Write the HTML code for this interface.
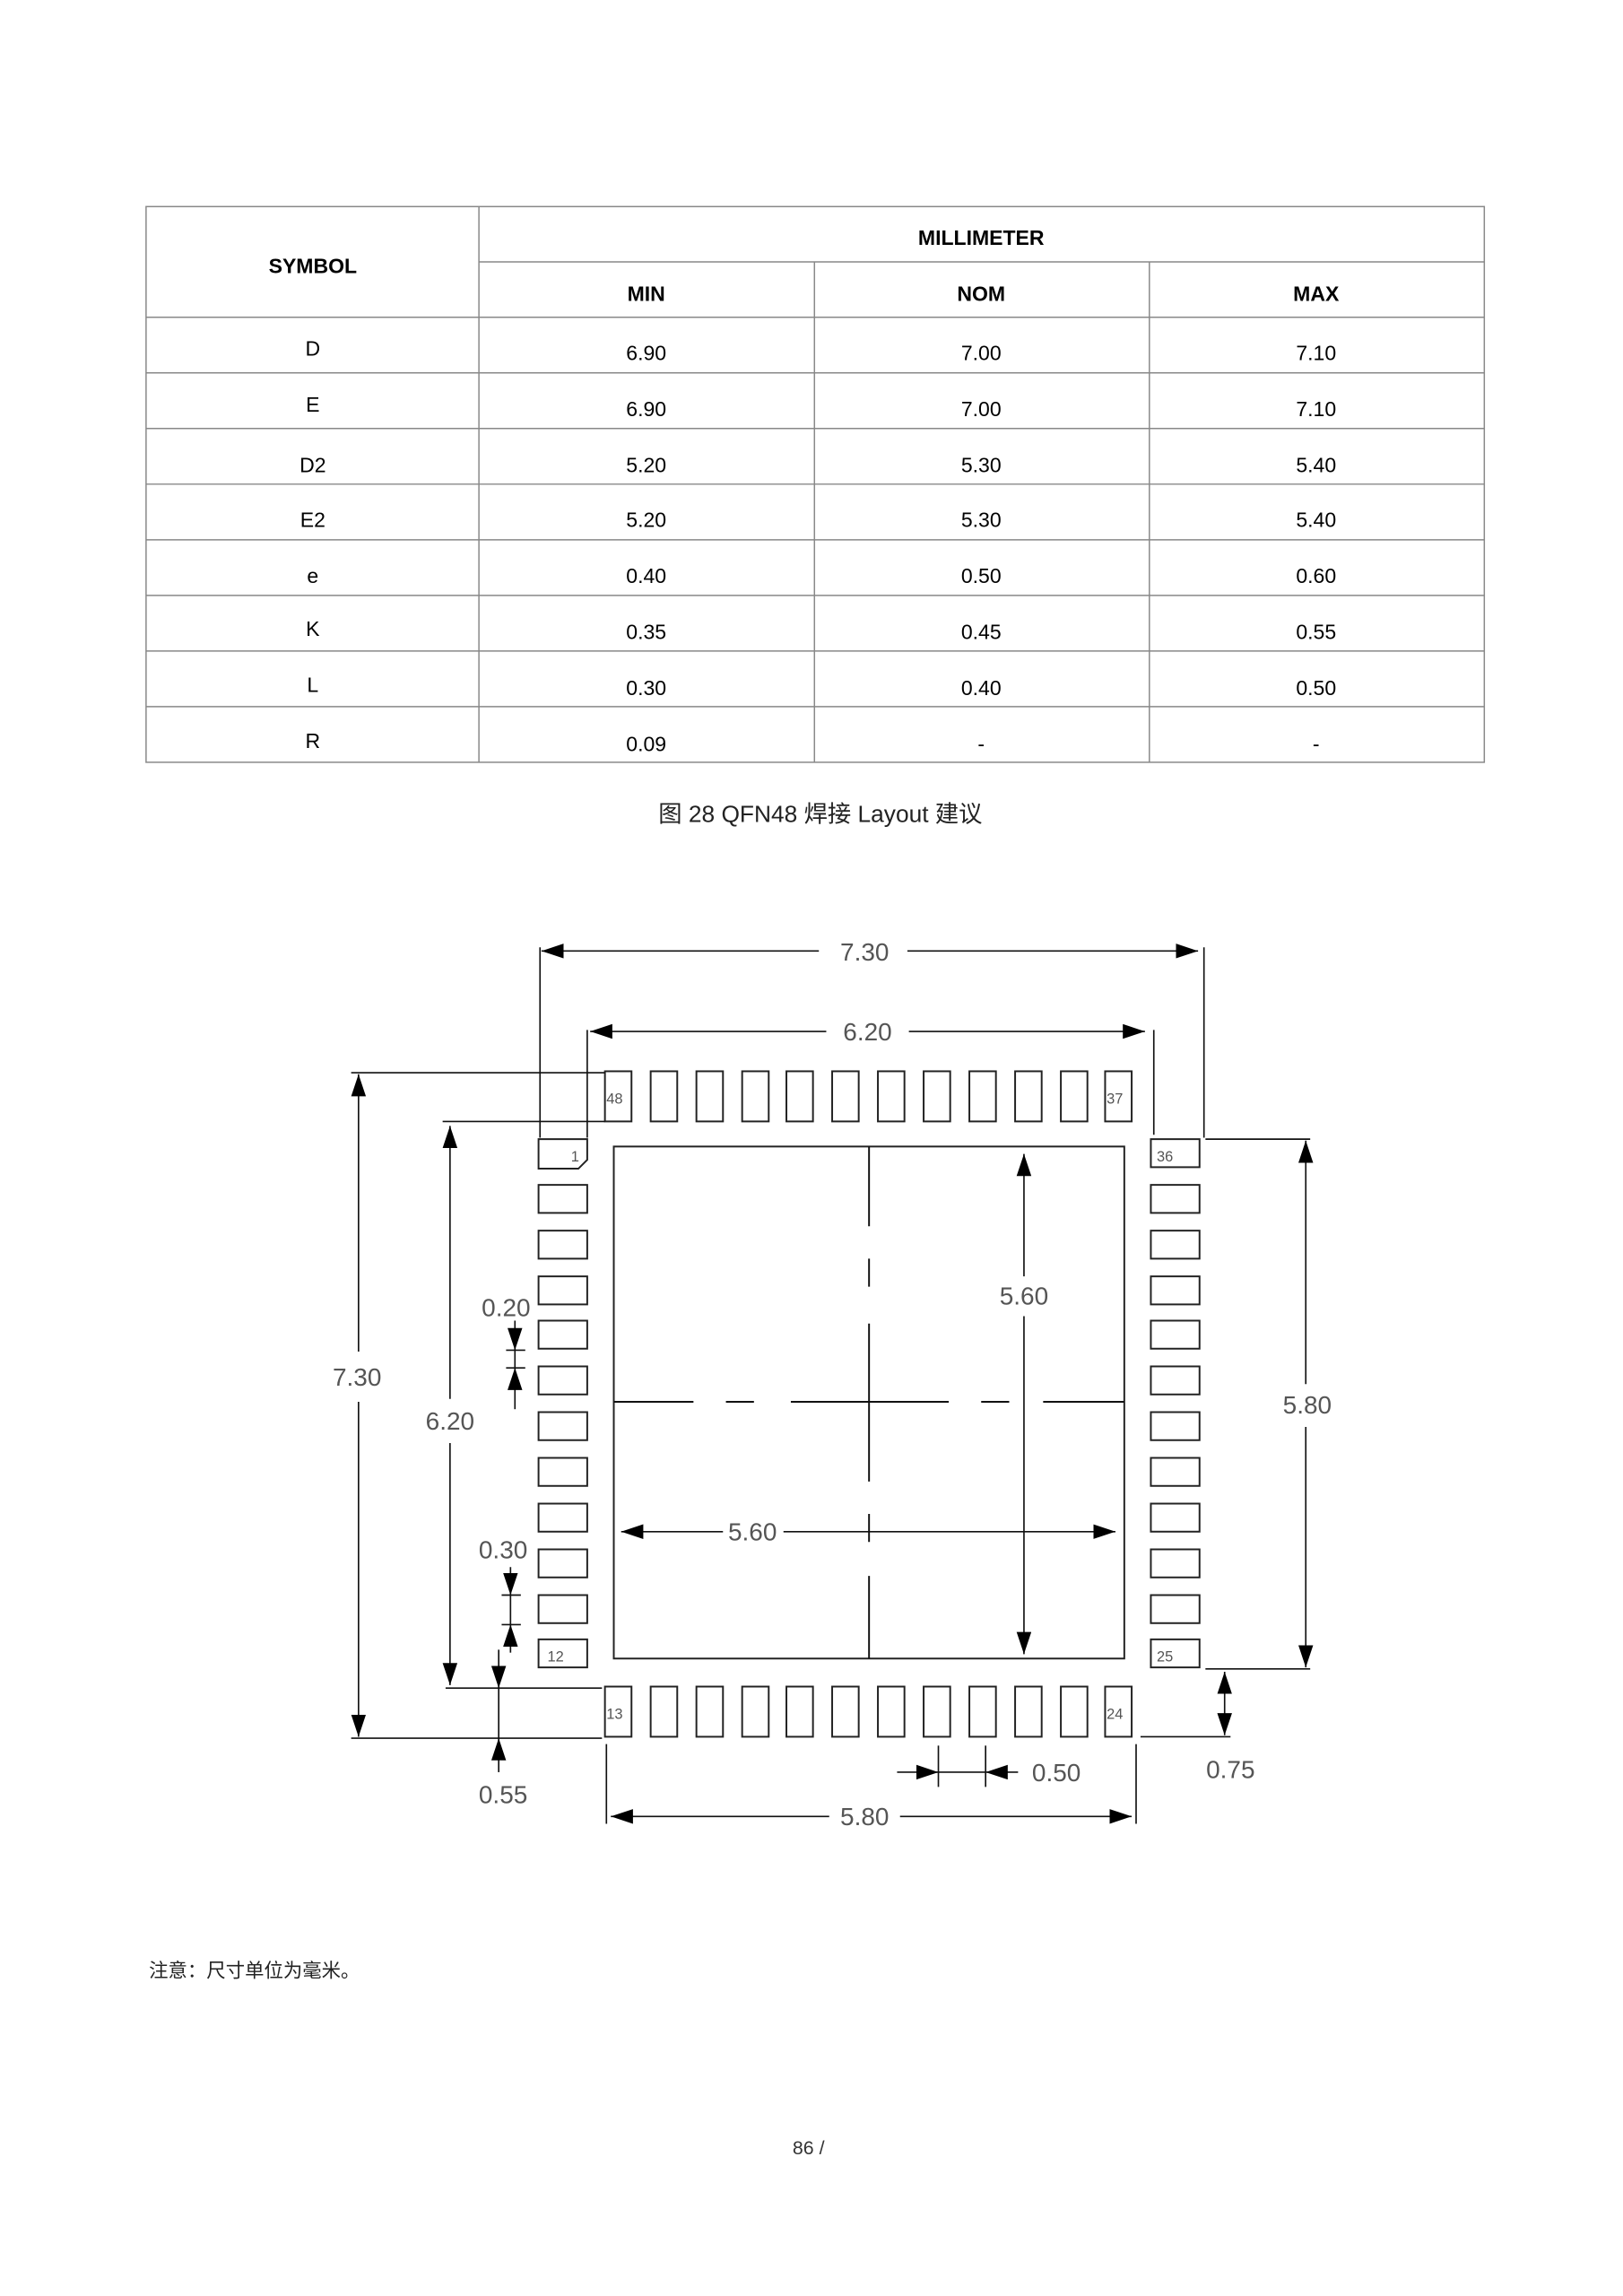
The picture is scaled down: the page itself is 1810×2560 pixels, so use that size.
<!DOCTYPE html>
<html><head><meta charset="utf-8"><style>
html,body{margin:0;padding:0;background:#fff;}
svg{display:block;}
text{font-family:"Liberation Sans","Noto Sans CJK SC",sans-serif;}
</style></head><body>
<svg width="1810" height="2560" viewBox="0 0 1100 1556" preserveAspectRatio="none" xmlns="http://www.w3.org/2000/svg">
<defs>
<marker id="a" markerUnits="userSpaceOnUse" markerWidth="16" markerHeight="11" refX="15" refY="5" orient="auto-start-reverse"><path d="M0,0 L15,5 L0,10 z" fill="#000"/></marker>
</defs>
<!-- table -->
<g stroke="#888" stroke-width="0.9" fill="none">
<rect x="99" y="140" width="907" height="376.6"/>
<line x1="324.6" y1="177.5" x2="1006" y2="177.5"/>
<line x1="99" y1="215" x2="1006" y2="215"/>
<line x1="99" y1="252.7" x2="1006" y2="252.7"/>
<line x1="99" y1="290.4" x2="1006" y2="290.4"/>
<line x1="99" y1="328.1" x2="1006" y2="328.1"/>
<line x1="99" y1="365.8" x2="1006" y2="365.8"/>
<line x1="99" y1="403.5" x2="1006" y2="403.5"/>
<line x1="99" y1="441.2" x2="1006" y2="441.2"/>
<line x1="99" y1="478.9" x2="1006" y2="478.9"/>
<line x1="324.6" y1="140" x2="324.6" y2="516.6"/>
<line x1="552" y1="177.5" x2="552" y2="516.6"/>
<line x1="779" y1="177.5" x2="779" y2="516.6"/>
</g>
<g font-size="14" text-anchor="middle" fill="#000">
<text x="212" y="185" font-weight="bold">SYMBOL</text>
<text x="665" y="166" font-weight="bold">MILLIMETER</text>
<text x="438" y="204" font-weight="bold">MIN</text>
<text x="665" y="204" font-weight="bold">NOM</text>
<text x="892" y="204" font-weight="bold">MAX</text>
<text x="212" y="241">D</text><text x="438" y="244">6.90</text><text x="665" y="244">7.00</text><text x="892" y="244">7.10</text>
<text x="212" y="279">E</text><text x="438" y="282">6.90</text><text x="665" y="282">7.00</text><text x="892" y="282">7.10</text>
<text x="212" y="320">D2</text><text x="438" y="320">5.20</text><text x="665" y="320">5.30</text><text x="892" y="320">5.40</text>
<text x="212" y="357">E2</text><text x="438" y="357">5.20</text><text x="665" y="357">5.30</text><text x="892" y="357">5.40</text>
<text x="212" y="395">e</text><text x="438" y="395">0.40</text><text x="665" y="395">0.50</text><text x="892" y="395">0.60</text>
<text x="212" y="431">K</text><text x="438" y="433">0.35</text><text x="665" y="433">0.45</text><text x="892" y="433">0.55</text>
<text x="212" y="469">L</text><text x="438" y="471">0.30</text><text x="665" y="471">0.40</text><text x="892" y="471">0.50</text>
<text x="212" y="507">R</text><text x="438" y="509">0.09</text><text x="665" y="509">-</text><text x="892" y="509">-</text>
</g>
<text x="556" y="557" font-size="16" text-anchor="middle" fill="#222">图  28 QFN48 焊接  Layout 建议</text>

<!-- pads -->
<g fill="none" stroke="#222" stroke-width="1.2">
<rect x="410" y="726" width="18" height="34"/><rect x="441" y="726" width="18" height="34"/><rect x="472" y="726" width="18" height="34"/><rect x="503" y="726" width="18" height="34"/><rect x="533" y="726" width="18" height="34"/><rect x="564" y="726" width="18" height="34"/><rect x="595" y="726" width="18" height="34"/><rect x="626" y="726" width="18" height="34"/><rect x="657" y="726" width="18" height="34"/><rect x="688" y="726" width="18" height="34"/><rect x="719" y="726" width="18" height="34"/><rect x="749" y="726" width="18" height="34"/>
<rect x="410" y="1143" width="18" height="34"/><rect x="441" y="1143" width="18" height="34"/><rect x="472" y="1143" width="18" height="34"/><rect x="503" y="1143" width="18" height="34"/><rect x="533" y="1143" width="18" height="34"/><rect x="564" y="1143" width="18" height="34"/><rect x="595" y="1143" width="18" height="34"/><rect x="626" y="1143" width="18" height="34"/><rect x="657" y="1143" width="18" height="34"/><rect x="688" y="1143" width="18" height="34"/><rect x="719" y="1143" width="18" height="34"/><rect x="749" y="1143" width="18" height="34"/>
<path d="M365,772 H398 V786 L392,792 H365 Z"/>
<rect x="365" y="803" width="33" height="19"/><rect x="365" y="834" width="33" height="19"/><rect x="365" y="865" width="33" height="19"/><rect x="365" y="895" width="33" height="19"/><rect x="365" y="926" width="33" height="19"/><rect x="365" y="957" width="33" height="19"/><rect x="365" y="988" width="33" height="19"/><rect x="365" y="1019" width="33" height="19"/><rect x="365" y="1050" width="33" height="19"/><rect x="365" y="1081" width="33" height="19"/><rect x="365" y="1111" width="33" height="19"/>
<rect x="780" y="772" width="33" height="19"/><rect x="780" y="803" width="33" height="19"/><rect x="780" y="834" width="33" height="19"/><rect x="780" y="865" width="33" height="19"/><rect x="780" y="895" width="33" height="19"/><rect x="780" y="926" width="33" height="19"/><rect x="780" y="957" width="33" height="19"/><rect x="780" y="988" width="33" height="19"/><rect x="780" y="1019" width="33" height="19"/><rect x="780" y="1050" width="33" height="19"/><rect x="780" y="1081" width="33" height="19"/><rect x="780" y="1111" width="33" height="19"/>
<rect x="416" y="777" width="346" height="347"/>
</g>
<g font-size="10" fill="#555">
<text x="411" y="748">48</text><text x="750" y="748">37</text>
<text x="411" y="1165">13</text><text x="750" y="1165">24</text>
<text x="387" y="787">1</text><text x="371" y="1126">12</text>
<text x="784" y="787">36</text><text x="784" y="1126">25</text>
</g>
<!-- crosshair -->
<g stroke="#111" stroke-width="1.2">
<path d="M416,950 H470 M492,950 H511 M536,950 H643 M665,950 H684 M707,950 H762"/>
<path d="M589,777 V831 M589,853 V872 M589,897 V1004 M589,1026 V1045 M589,1068 V1124"/>
</g>
<!-- dimension lines -->
<g stroke="#111" stroke-width="1" fill="none">
<line x1="367" y1="644.5" x2="555" y2="644.5" marker-start="url(#a)"/>
<line x1="615" y1="644.5" x2="812" y2="644.5" marker-end="url(#a)"/>
<line x1="366" y1="642" x2="366" y2="771"/>
<line x1="816" y1="642" x2="816" y2="771"/>
<line x1="400" y1="699" x2="560" y2="699" marker-start="url(#a)"/>
<line x1="616" y1="699" x2="776" y2="699" marker-end="url(#a)"/>
<line x1="398" y1="698" x2="398" y2="771"/>
<line x1="782" y1="698" x2="782" y2="769"/>

<line x1="243" y1="728" x2="243" y2="916" marker-start="url(#a)"/>
<line x1="243" y1="950" x2="243" y2="1177" marker-end="url(#a)"/>
<line x1="238" y1="727" x2="410" y2="727"/>
<line x1="238" y1="1178" x2="408" y2="1178"/>

<line x1="305" y1="763" x2="305" y2="948" marker-start="url(#a)"/>
<line x1="305" y1="978" x2="305" y2="1142" marker-end="url(#a)"/>
<line x1="300" y1="760" x2="410" y2="760"/>
<line x1="302" y1="1144" x2="408" y2="1144"/>

<line x1="349" y1="895" x2="349" y2="915" marker-end="url(#a)"/>
<line x1="349" y1="955" x2="349" y2="927" marker-end="url(#a)"/>
<line x1="349" y1="915" x2="349" y2="927"/>
<line x1="343" y1="915" x2="356" y2="915"/>
<line x1="343" y1="927" x2="356" y2="927"/>

<line x1="346" y1="1062" x2="346" y2="1081" marker-end="url(#a)"/>
<line x1="346" y1="1120" x2="346" y2="1101" marker-end="url(#a)"/>
<line x1="346" y1="1081" x2="346" y2="1101"/>
<line x1="340" y1="1081" x2="353" y2="1081"/>
<line x1="340" y1="1101" x2="353" y2="1101"/>

<line x1="338" y1="1118" x2="338" y2="1144" marker-end="url(#a)"/>
<line x1="338" y1="1201" x2="338" y2="1178" marker-end="url(#a)"/>
<line x1="338" y1="1144" x2="338" y2="1178"/>

<line x1="694" y1="782" x2="694" y2="865" marker-start="url(#a)"/>
<line x1="694" y1="892" x2="694" y2="1121" marker-end="url(#a)"/>
<line x1="421" y1="1038" x2="490" y2="1038" marker-start="url(#a)"/>
<line x1="531" y1="1038" x2="756" y2="1038" marker-end="url(#a)"/>

<line x1="885" y1="773" x2="885" y2="938" marker-start="url(#a)"/>
<line x1="885" y1="967" x2="885" y2="1130" marker-end="url(#a)"/>
<line x1="817" y1="772" x2="888" y2="772"/>
<line x1="817" y1="1131" x2="888" y2="1131"/>

<line x1="830" y1="1133" x2="830" y2="1176" marker-start="url(#a)" marker-end="url(#a)"/>
<line x1="773" y1="1177" x2="834" y2="1177"/>

<line x1="608" y1="1201" x2="636" y2="1201" marker-end="url(#a)"/>
<line x1="690" y1="1201" x2="668" y2="1201" marker-end="url(#a)"/>
<line x1="636" y1="1201" x2="668" y2="1201"/>
<line x1="636" y1="1183" x2="636" y2="1211"/>
<line x1="668" y1="1183" x2="668" y2="1211"/>

<line x1="414" y1="1231" x2="562" y2="1231" marker-start="url(#a)"/>
<line x1="610" y1="1231" x2="767" y2="1231" marker-end="url(#a)"/>
<line x1="411" y1="1182" x2="411" y2="1236"/>
<line x1="770" y1="1182" x2="770" y2="1236"/>
</g>
<g font-size="17" fill="#555" text-anchor="middle">
<text x="586" y="651">7.30</text>
<text x="588" y="705">6.20</text>
<text x="242" y="939">7.30</text>
<text x="305" y="969">6.20</text>
<text x="343" y="892">0.20</text>
<text x="341" y="1056">0.30</text>
<text x="341" y="1222">0.55</text>
<text x="694" y="884">5.60</text>
<text x="510" y="1044">5.60</text>
<text x="886" y="958">5.80</text>
<text x="834" y="1205">0.75</text>
<text x="716" y="1207">0.50</text>
<text x="586" y="1237">5.80</text>
</g>
<text x="101" y="1340" font-size="13" fill="#222">注意：尺寸单位为毫米。</text>
<text x="548" y="1460" font-size="13" fill="#333" text-anchor="middle">86 /</text>
</svg>
</body></html>
